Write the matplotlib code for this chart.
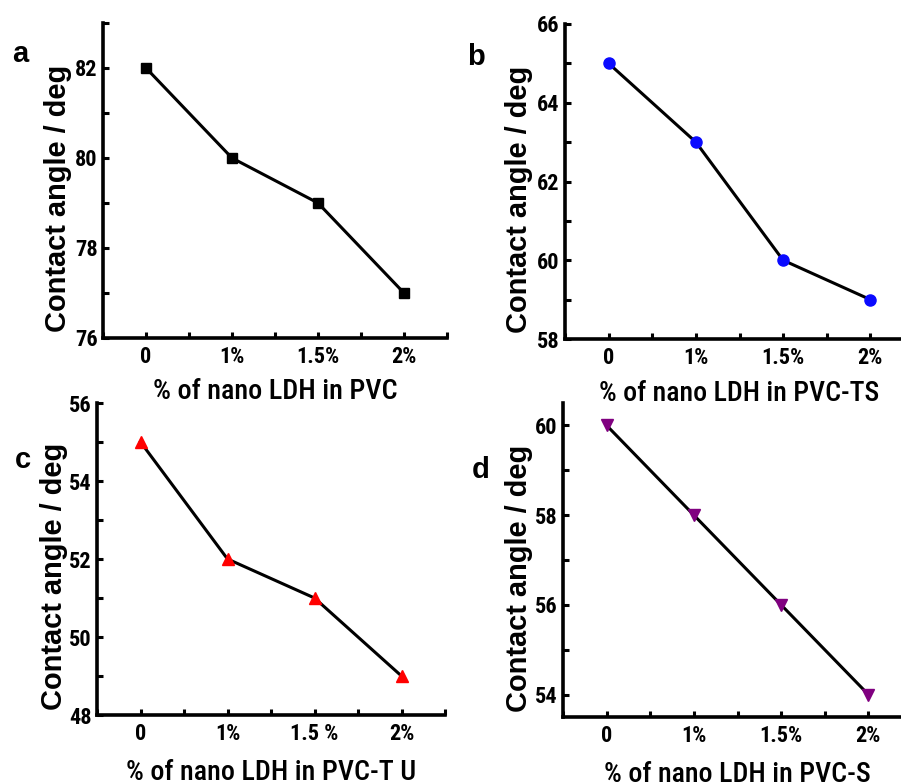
import matplotlib
matplotlib.use("Agg")
import matplotlib.pyplot as plt
from matplotlib.ticker import MultipleLocator
from matplotlib.font_manager import FontProperties, findfont

# data
x_labels_std = ["0", "1%", "1.5%", "2%"]
x_labels_tu = ["0", "1%", "1.5 %", "2%"]
pvc = [82, 80, 79, 77]
pvc_ts = [65, 63, 60, 59]
pvc_tu = [55, 52, 51, 49]
pvc_s = [60, 58, 56, 54]


def pick(cands, default):
    for c in cands:
        try:
            findfont(FontProperties(family=c), fallback_to_default=False)
            return c
        except ValueError:
            pass
    return default


narrow = pick(["Liberation Sans Narrow", "Arial Narrow", "Roboto Condensed",
               "Archivo Narrow", "PT Sans Narrow", "Fira Sans Condensed"],
              "Liberation Sans")
wide = pick(["Liberation Sans", "Arimo", "Arial"], "DejaVu Sans")

# tick labels: narrow bold
plt.rcParams["font.family"] = [narrow, "DejaVu Sans"]
plt.rcParams["font.weight"] = "bold"
plt.rcParams["xtick.labelsize"] = 16
plt.rcParams["ytick.labelsize"] = 16

W, H = 901, 782
fig = plt.figure(figsize=(W / 100, H / 100), dpi=100)

# pixel boxes (left, top, right, bottom) measured on the reference
panels = [
    dict(box=(103, 23, 447, 338), vals=pvc, mk="s", ms=7, col="black",
         ylim=(76, 83), xl=x_labels_std, xlabel="% of nano LDH in PVC",
         letter="a", lxy=(12, 62), ylab_x=72, xlab_gap=40, xlab_w=245),
    dict(box=(565, 24, 914, 339), vals=pvc_ts, mk="o", ms=8, col="#0a0aff",
         ylim=(58, 66), xl=x_labels_std, xlabel="% of nano LDH in PVC-TS",
         letter="b", lxy=(467, 65), ylab_x=533, xlab_gap=41, xlab_w=280),
    dict(box=(97, 403, 445, 715), vals=pvc_tu, mk="^", ms=9, col="#ff0000",
         ylim=(48, 56), xl=x_labels_tu, xlabel="% of nano LDH in PVC-T U",
         letter="c", lxy=(15, 468), ylab_x=68, xlab_gap=44, xlab_w=290),
    dict(box=(563, 403, 912, 717), vals=pvc_s, mk="v", ms=9, col="#800080",
         ylim=(53.5, 60.5), xl=x_labels_std, xlabel="% of nano LDH in PVC-S",
         letter="d", lxy=(472, 478), ylab_x=533, xlab_gap=44, xlab_w=266),
]

fit = []
for p in panels:
    l, t, rr, b = p["box"]
    ax = fig.add_axes([l / W, 1 - b / H, (rr - l) / W, (b - t) / H])
    xs = range(len(p["vals"]))
    ax.plot(xs, p["vals"], color="black", lw=2.2, marker=p["mk"],
            markersize=p["ms"], markerfacecolor=p["col"],
            markeredgecolor=p["col"], clip_on=False)
    ax.set_xlim(-0.5, 3.5)
    ax.set_ylim(*p["ylim"])
    ax.set_xticks(list(xs))
    ax.set_xticklabels(p["xl"])
    ax.xaxis.set_minor_locator(MultipleLocator(0.5))
    ax.yaxis.set_major_locator(MultipleLocator(2))
    ax.yaxis.set_minor_locator(MultipleLocator(1))
    for s in ["top", "right"]:
        ax.spines[s].set_visible(False)
    for s in ["left", "bottom"]:
        ax.spines[s].set_linewidth(2.6)
    ax.tick_params(which="both", direction="in", length=4, width=2.2)
    ax.tick_params(axis="x", pad=6)
    ax.tick_params(axis="y", pad=4)
    xlab = ax.set_xlabel(p["xlabel"], family=narrow, fontweight="medium",
                         fontsize=18, va="top")
    ax.xaxis.set_label_coords(0.5, -p["xlab_gap"] / (b - t))
    ylab = ax.set_ylabel("Contact angle / deg", family=wide,
                         fontweight="bold", fontsize=21)
    ax.yaxis.set_label_coords((p["ylab_x"] - l) / (rr - l), 0.443)
    fit.append((xlab, p["xlab_w"], "w"))
    fit.append((ylab, 268, "h"))
    fig.text(p["lxy"][0] / W, 1 - p["lxy"][1] / H, p["letter"], family=wide,
             fontweight="bold", fontsize=21, va="baseline", ha="left")

# scale the axis titles to the lengths measured on the reference
fig.canvas.draw()
r = fig.canvas.get_renderer()
for txt, target, dim in fit:
    bb = txt.get_window_extent(r)
    cur = bb.width if dim == "w" else bb.height
    txt.set_fontsize(txt.get_fontsize() * target / cur)

fig.savefig("out.png", dpi=100)
